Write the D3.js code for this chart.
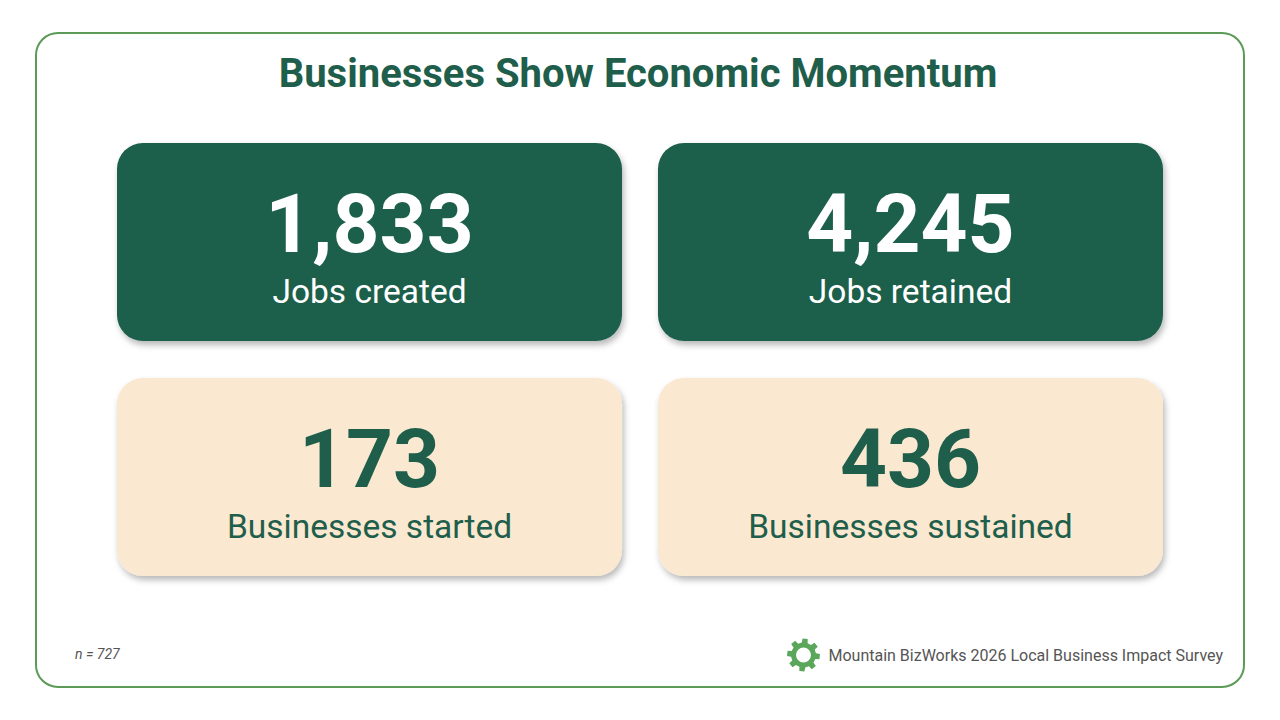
<!DOCTYPE html>
<html lang="en">
<head>
<meta charset="utf-8">
<title>Businesses Show Economic Momentum</title>
<script src="https://cdn.jsdelivr.net/npm/d3@7"></script>
<style>
  html, body { margin: 0; padding: 0; background: #fff; }
  svg { display: block; font-family: Roboto, "Noto Sans", sans-serif; }
</style>
</head>
<body>
<script>
// card data
var metrics = ["Jobs created", "Jobs retained", "Businesses started", "Businesses sustained"];
var values = [1833, 4245, 173, 436];
var cols = ["left", "right", "left", "right"];
var rows = ["jobs", "jobs", "businesses", "businesses"];

var title = "Businesses Show Economic Momentum";
var sampleNote = "n = 727";
var sourceNote = "Mountain BizWorks 2026 Local Business Impact Survey";

var w = 1280, h = 720;
var dark = "#1e5e4b", cream = "#fae8d0", frameGreen = "#5b9a57";

var svg = d3.select("body").append("svg")
  .attr("width", w)
  .attr("height", h);

// soft drop shadow under the cards
var defs = svg.append("defs");
var f = defs.append("filter").attr("id", "shadow")
  .attr("x", "-10%").attr("y", "-10%").attr("width", "125%").attr("height", "130%");
f.append("feDropShadow")
  .attr("dx", 2).attr("dy", 4).attr("stdDeviation", 3)
  .attr("flood-color", "#000").attr("flood-opacity", 0.28);

// outer frame
svg.append("rect")
  .attr("x", 36).attr("y", 33)
  .attr("width", 1208).attr("height", 654)
  .attr("rx", 22)
  .attr("fill", "#fff")
  .attr("stroke", frameGreen)
  .attr("stroke-width", 2);

svg.append("text")
  .attr("x", 638).attr("y", 87)
  .attr("text-anchor", "middle")
  .attr("font-size", 40)
  .attr("font-weight", 700)
  .attr("fill", dark)
  .text(title);

var xScale = d3.scaleBand()
  .domain(["left", "right"])
  .range([117, 1163])
  .paddingInner(0.0665);

var yScale = d3.scaleBand()
  .domain(["jobs", "businesses"])
  .range([143, 576])
  .paddingInner(0.1574);

var fmt = d3.format(",");

var cards = svg.selectAll("g.card")
  .data(values)
  .enter()
  .append("g")
  .attr("class", "card")
  .attr("transform", function(d, i) {
    return "translate(" + xScale(cols[i]) + "," + yScale(rows[i]) + ")";
  });

cards.append("rect")
  .attr("width", xScale.bandwidth())
  .attr("height", yScale.bandwidth())
  .attr("rx", 26)
  .attr("fill", function(d, i) { return rows[i] == "jobs" ? dark : cream; })
  .attr("filter", "url(#shadow)");

cards.append("text")
  .attr("x", xScale.bandwidth() / 2)
  .attr("y", yScale.bandwidth() / 2 + 10)
  .attr("text-anchor", "middle")
  .attr("font-size", 82)
  .attr("font-weight", 700)
  .attr("fill", function(d, i) { return rows[i] == "jobs" ? "#fff" : dark; })
  .text(function(d) { return fmt(d); });

cards.append("text")
  .attr("x", xScale.bandwidth() / 2)
  .attr("y", yScale.bandwidth() / 2 + 61)
  .attr("text-anchor", "middle")
  .attr("font-size", 33.5)
  .attr("fill", function(d, i) { return rows[i] == "jobs" ? "#fff" : dark; })
  .text(function(d, i) { return metrics[i]; });

// footer
svg.append("text")
  .attr("x", 75).attr("y", 659)
  .attr("font-size", 14)
  .attr("font-style", "italic")
  .attr("fill", "#555")
  .text(sampleNote);

// little gear logo
var gear = [];
var teeth = 8, rOut = 16.5, rIn = 12.5;
for (var k = 0; k < teeth; k++) {
  var a0 = (k / teeth) * 2 * Math.PI + 0.1;
  var step = 2 * Math.PI / teeth;
  gear.push([a0 - step * 0.3, rIn]);
  gear.push([a0 - step * 0.2, rOut]);
  gear.push([a0 + step * 0.2, rOut]);
  gear.push([a0 + step * 0.3, rIn]);
}
var gearPath = d3.lineRadial().curve(d3.curveLinearClosed)(gear);
var hole = 7.5;
gearPath += "M" + hole + ",0A" + hole + "," + hole + " 0 1,0 " + (-hole) + ",0A" + hole + "," + hole + " 0 1,0 " + hole + ",0Z";
svg.append("path")
  .attr("transform", "translate(803.5,655)")
  .attr("d", gearPath)
  .attr("fill", "#5aa65a")
  .attr("fill-rule", "evenodd");

svg.append("text")
  .attr("x", 1223).attr("y", 661)
  .attr("text-anchor", "end")
  .attr("font-size", 16)
  .attr("fill", "#555")
  .text(sourceNote);
</script>
</body>
</html>
